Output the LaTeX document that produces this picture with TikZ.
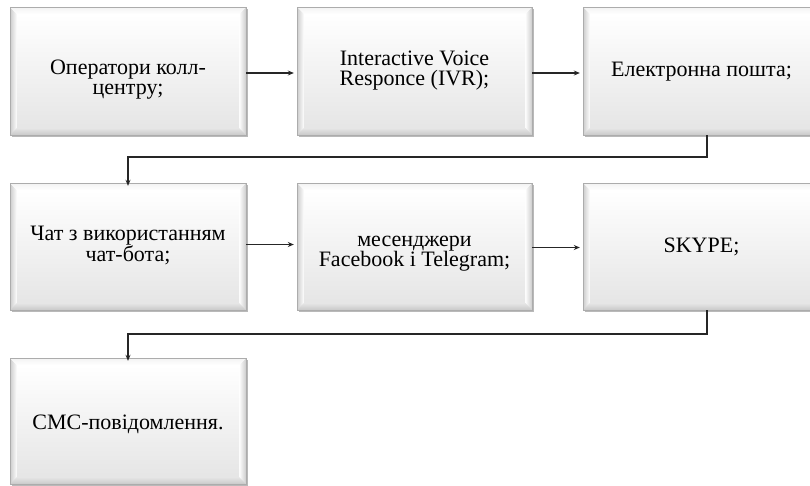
\documentclass[tikz,border=0pt]{standalone}
\usepackage{fontspec}
\setmainfont{Liberation Serif}
\usetikzlibrary{arrows.meta,fit}
\tikzset{
  boxframe/.style={inner sep=0pt, draw=none},
  boxtext/.style={align=center, text=black, inner sep=0pt, font=\fontsize{22}{20}\selectfont},
  arr/.style={draw=black!85, line width=1.5pt, -{Stealth[length=6pt,width=5pt]}, shorten >=3pt},
  elbow/.style={draw=black!85, line width=2pt, -{Stealth[length=6pt,width=5pt]}},
}
\newcommand\bevbox[7]{%
  % #1 name, #2 x1, #3 y1, #4 x2, #5 y2, #6 text, #7 text shift
  \fill[gray!55] ({#2+2},{#3+2}) rectangle ({#4+2},{#5+2});
  \shade[top color=white, bottom color=gray!28] (#2,#3) rectangle (#4,#5);
  \shade[left color=gray!40, right color=white] (#2,#3) -- ({#2+7},{#3+7}) -- ({#2+7},{#5-7}) -- (#2,#5) -- cycle;
  \shade[left color=white, right color=gray!40] (#4,#3) -- ({#4-7},{#3+7}) -- ({#4-7},{#5-7}) -- (#4,#5) -- cycle;
  \shade[top color=gray!10, bottom color=white] (#2,#3) -- ({#2+7},{#3+7}) -- ({#4-7},{#3+7}) -- (#4,#3) -- cycle;
  \shade[top color=gray!20, bottom color=gray!42] (#2,#5) -- ({#2+7},{#5-7}) -- ({#4-7},{#5-7}) -- (#4,#5) -- cycle;
  \shade[top color=white, bottom color=gray!20] ({#2+7},{#3+7}) rectangle ({#4-7},{#5-7});
  \draw[gray!65, line width=0.8pt] (#2,#3) rectangle (#4,#5);
  \node[boxframe, fit={(#2,#3) (#4,#5)}] (#1) {};
  \node[boxtext] (#1t) at ([yshift=-#7pt]#1.center) {#6};
}
\begin{document}
\begin{tikzpicture}[x=1pt,y=-1pt]
\clip (0,0) rectangle (810,485);
\fill[white] (0,0) rectangle (810,485);
\bevbox{b1}{10}{7}{246}{135}{Оператори колл-\\центру;}{9}
\bevbox{b2}{297}{7}{532}{135}{Interactive Voice\\Responce (IVR);}{0}
\bevbox{b3}{583}{7}{820}{135}{Електронна пошта;}{1}
\bevbox{b4}{10}{183}{246}{310}{Чат з використанням\\чат-бота;}{-1}
\bevbox{b5}{297}{183}{532}{310}{месенджери\\Facebook і Telegram;}{7}
\bevbox{b6}{583}{183}{820}{310}{SKYPE;}{0}
\bevbox{b7}{10}{358}{246}{484}{СМС-повідомлення.}{3}
\coordinate (e1) at (702,157);
\coordinate (e2) at (702,334);
\draw[arr] ([yshift=-2pt]b1.east) -- ([yshift=-2pt]b2.west);
\draw[arr] ([yshift=-2pt]b2.east) -- ([yshift=-2pt]b3.west);
\draw[arr] ([yshift=2pt]b4.east) -- ([yshift=2pt]b5.west);
\draw[arr] ([yshift=-1pt]b5.east) -- ([yshift=-1pt]b6.west);
\draw[elbow] ([xshift=5pt]b3.south) |- (e1) -| ([yshift=-3pt]b4.north);
\draw[elbow] ([xshift=5pt]b6.south) |- (e2) -| ([yshift=-3pt]b7.north);
\end{tikzpicture}
\end{document}
